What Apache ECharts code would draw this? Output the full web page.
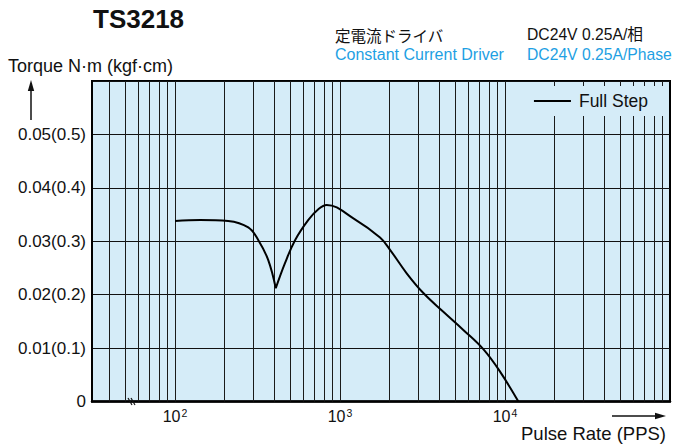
<!DOCTYPE html>
<html>
<head>
<meta charset="utf-8">
<script src="https://cdn.jsdelivr.net/npm/echarts@6/dist/echarts.min.js"></script>
<style>
html,body{margin:0;padding:0;background:#fff;}
#chart{width:674px;height:446px;}
</style>
</head>
<body>
<div id="chart"></div>
<script>
// ---- data ----
const seriesName = 'Full Step';
const pulseRate = [100, 142, 210, 278, 320, 367, 408, 464, 534, 643, 739, 830, 1205, 1748, 2010, 2536, 3199, 4228, 5588, 7384, 9330, 12050];
const torque    = [0.0338, 0.0340, 0.0338, 0.0326, 0.0302, 0.0265, 0.0212, 0.0259, 0.0302, 0.0340, 0.0360, 0.0368, 0.0343, 0.0307, 0.0284, 0.0240, 0.0203, 0.0168, 0.0134, 0.0098, 0.0056, 0.0];
const dipIndex = 6; // sharp notch in the curve
const xGridValues = [40, 50, 60, 70, 80, 90, 100, 200, 300, 400, 500, 600, 700, 800, 900, 1000,
                     2000, 3000, 4000, 5000, 6000, 7000, 8000, 9000, 10000,
                     20000, 30000, 40000, 50000, 60000, 70000, 80000, 90000];
const xTickValues = [100, 1000, 10000];
const xTickExponents = ['2', '3', '4'];
const yTickLabels = ['0', '0.01(0.1)', '0.02(0.2)', '0.03(0.3)', '0.04(0.4)', '0.05(0.5)', ''];

const FONT = '"Liberation Sans", Arial, Helvetica, sans-serif';
const BG = '#d5ecf8';
const BLUE = '#1e9fe3';

const chart = echarts.init(document.getElementById('chart'), null, {renderer: 'svg'});

const points = pulseRate.map((x, i) => [x, torque[i]]);
const curveStyle = {
  type: 'line',
  name: seriesName,
  symbol: 'none',
  smooth: 0.4,
  color: '#000',
  lineStyle: {color: '#000', width: 2},
  z: 5
};

const option = {
  animation: false,
  backgroundColor: '#fff',
  grid: {
    left: 92, right: 4, top: 81, bottom: 44.5,
    show: true, backgroundColor: BG, borderColor: '#000', borderWidth: 2
  },
  legend: {
    data: [seriesName],
    right: 9, top: 86,
    z: 20,
    backgroundColor: BG,
    padding: [6, 17, 6, 8],
    icon: 'rect', itemWidth: 37, itemHeight: 2,
    selectedMode: false,
    textStyle: {fontSize: 17.5, color: '#111', fontFamily: FONT, padding: [0, 0, 0, 3]}
  },
  xAxis: {
    type: 'log', logBase: 10, min: 31.4, max: 100000,
    axisLine: {show: true, lineStyle: {color: '#000', width: 2.5}},
    axisTick: {show: false},
    splitLine: {show: false},
    minorTick: {show: false},
    axisLabel: {
      customValues: xTickValues,
      margin: 6,
      formatter: function (v) {
        const i = xTickValues.findIndex(t => Math.abs(Math.log10(t) - Math.log10(v)) < 1e-6);
        return '{b|10}{s|' + (i >= 0 ? xTickExponents[i] : '') + '}';
      },
      rich: {
        b: {fontSize: 16, fontFamily: FONT, color: '#111', lineHeight: 18},
        s: {fontSize: 10.5, fontFamily: FONT, color: '#111', verticalAlign: 'top', lineHeight: 18, padding: [0, 0, 0, 1]}
      }
    }
  },
  yAxis: {
    type: 'value', min: 0, max: 0.06, interval: 0.01,
    axisLine: {show: true, lineStyle: {color: '#000', width: 2}},
    axisTick: {show: false},
    splitLine: {show: true, lineStyle: {color: '#111', width: 1}},
    axisLabel: {
      margin: 6,
      fontSize: 17, fontFamily: FONT, color: '#111',
      formatter: function (v) {
        const i = Math.round(v / 0.01);
        return yTickLabels[i] !== undefined ? yTickLabels[i] : '';
      }
    }
  },
  series: [
    {
      name: 'grid',
      type: 'line',
      data: [[100, 0]],
      symbol: 'none',
      lineStyle: {opacity: 0},
      silent: true,
      z: 1,
      markLine: {
        silent: true,
        z: 1,
        symbol: ['none', 'none'],
        label: {show: false},
        emphasis: {disabled: true},
        lineStyle: {color: '#1a1a1a', width: 1, type: 'solid'},
        data: xGridValues.map(v => ({xAxis: v}))
      }
    },
    Object.assign({}, curveStyle, {data: points.slice(0, dipIndex + 1)}),
    Object.assign({}, curveStyle, {data: points.slice(dipIndex)})
  ],
  graphic: [
    {type: 'text', x: 93, y: 19, style: {text: 'TS3218', fontSize: 26, fontWeight: 'bold', fontFamily: FONT, fill: '#111', textVerticalAlign: 'middle'}},
    {type: 'text', x: 8, y: 66, style: {text: 'Torque N·m (kgf·cm)', fontSize: 18, fontFamily: FONT, fill: '#111', textVerticalAlign: 'middle'}},
    {type: 'text', x: 335, y: 34.5, style: {text: '定電流ドライバ', fontSize: 15.5, fontFamily: '"Noto Sans CJK JP", sans-serif', fill: '#111', textVerticalAlign: 'middle'}},
    {type: 'text', x: 335, y: 54, style: {text: 'Constant Current Driver', fontSize: 16, fontFamily: FONT, fill: BLUE, textVerticalAlign: 'middle'}},
    {type: 'text', x: 527, y: 34.5, style: {text: 'DC24V 0.25A/相', fontSize: 15.7, fontFamily: FONT + ', "Noto Sans CJK JP"', fill: '#111', textVerticalAlign: 'middle'}},
    {type: 'text', x: 527, y: 54, style: {text: 'DC24V 0.25A/Phase', fontSize: 15.7, fontFamily: FONT, fill: BLUE, textVerticalAlign: 'middle'}},
    {type: 'text', x: 521, y: 433, style: {text: 'Pulse Rate (PPS)', fontSize: 18.5, fontFamily: FONT, fill: '#111', textVerticalAlign: 'middle'}},
    // up arrow (torque)
    {type: 'line', shape: {x1: 31, y1: 120, x2: 31, y2: 88}, style: {stroke: '#111', lineWidth: 1.5}},
    {type: 'polygon', shape: {points: [[27.8, 91], [34.2, 91], [31, 80]]}, style: {fill: '#111'}},
    // right arrow (pulse rate)
    {type: 'line', shape: {x1: 612, y1: 416, x2: 657, y2: 416}, style: {stroke: '#111', lineWidth: 1.5}},
    {type: 'polygon', shape: {points: [[655, 412.8], [655, 419.2], [666, 416]]}, style: {fill: '#111'}},
    // axis break mark
    {type: 'line', shape: {x1: 128, y1: 398, x2: 132, y2: 405}, style: {stroke: '#111', lineWidth: 1.2}, z: 100},
    {type: 'line', shape: {x1: 131, y1: 398, x2: 135, y2: 405}, style: {stroke: '#111', lineWidth: 1.2}, z: 100}
  ]
};
chart.setOption(option);
</script>
</body>
</html>
